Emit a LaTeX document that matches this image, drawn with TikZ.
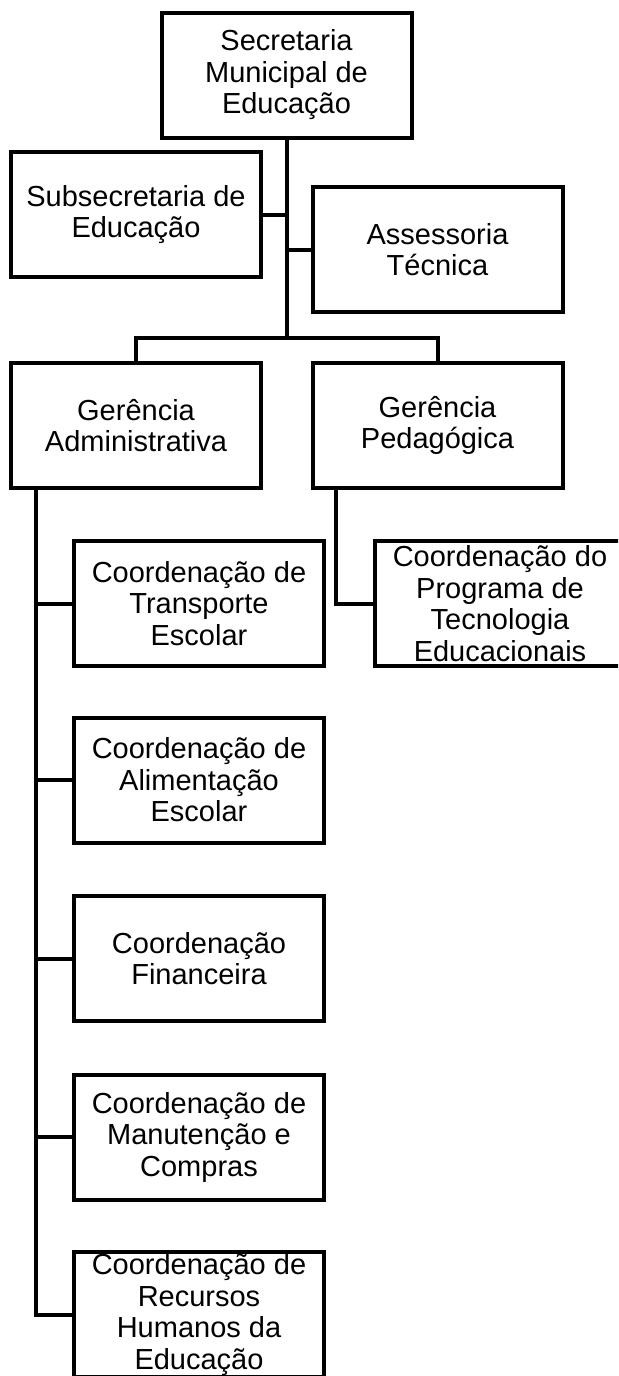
\documentclass[tikz,border=0pt]{standalone}
\usepackage{fontspec}
\setmainfont{Liberation Sans}
\usetikzlibrary{calc}

\begin{document}
\begin{tikzpicture}
    [
        x = 0.5pt, y = -0.5pt,
        unit/.style = {draw, line width = 2pt, minimum width = 125pt, minimum height = 62.5pt,
                       inner sep = 0pt, align = center, font = \fontsize{14.5}{15.75}\selectfont},
        conn/.style = {line width = 2pt}
    ]

        \clip (0,0) rectangle (618,1376);

        \node[unit] (sec) at (286.5,75) {Secretaria\\Municipal de\\Educação};
        \node[unit] (sub) at (136,214.5) {Subsecretaria de\\Educação};
        \node[unit] (ase) at (437.5,249.5) {Assessoria\\Técnica};
        \node[unit] (gad) at (136,425.5) {Gerência\\Administrativa};
        \node[unit] (gpe) at (437.5,425.5) {Gerência\\Pedagógica};

        \node[unit] (ctr) at (199,603.5) {Coordenação de\\Transporte\\Escolar};
        \node[unit] (cal) at (199,780) {Coordenação de\\Alimentação\\Escolar};
        \node[unit] (cfi) at (199,958.5) {Coordenação\\Financeira};
        \node[unit] (cma) at (199,1137) {Coordenação de\\Manutenção e\\Compras};
        \node[unit] (crh) at (199,1314.5) {Coordenação de\\Recursos\\Humanos da\\Educação};
        \node[unit] (cpr) at (500,603.5) {Coordenação do\\Programa de\\Tecnologia\\Educacionais};

        \coordinate (split) at (286.5,337.5);
        \coordinate (admtop) at ($(gad.south west)+(26.5,0)$);
        \coordinate (pedtop) at ($(gpe.south west)+(25,0)$);

        \draw[conn] (sec.south) -- (split);
        \draw[conn] (sub.east) -- (sub.east -| split);
        \draw[conn] (ase.west) -- (ase.west -| split);
        \draw[conn] (gad.north) |- (split) -| (gpe.north);

        \draw[conn] (admtop) |- (crh.west);
        \draw[conn] (ctr.west) -- (ctr.west -| admtop);
        \draw[conn] (cal.west) -- (cal.west -| admtop);
        \draw[conn] (cfi.west) -- (cfi.west -| admtop);
        \draw[conn] (cma.west) -- (cma.west -| admtop);

        \draw[conn] (pedtop) |- (cpr.west);
    \end{tikzpicture}
\end{document}
